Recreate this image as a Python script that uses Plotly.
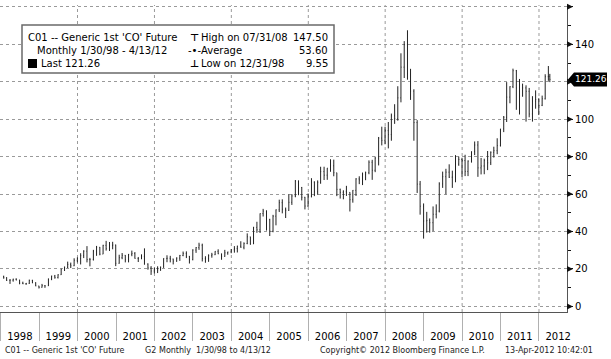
import plotly.graph_objects as go
import pandas as pd

# ---------------- data (monthly OHLC, Generic 1st 'CO' Future) ----------------
OPEN = [
    16.0, 15.3, 13.9, 14.0, 14.5, 14.1, 12.4, 12.1, 12.3, 13.9, 12.6, 10.9,   # 1998
    10.2, 11.1, 11.0, 14.6, 16.2, 15.4, 16.9, 19.9, 20.9, 22.4, 21.7, 24.6,   # 1999
    25.6, 27.1, 29.5, 25.0, 25.0, 29.5, 31.6, 27.9, 32.6, 30.8, 32.5, 32.8,   # 2000
    23.0, 26.0, 27.3, 24.9, 27.8, 28.3, 25.6, 25.5, 26.7, 22.6, 20.5, 18.9,   # 2001
    20.4, 19.5, 20.9, 25.6, 25.7, 25.3, 24.2, 25.8, 27.2, 28.3, 26.8, 25.0,   # 2002
    30.1, 31.4, 32.7, 25.5, 25.5, 27.1, 27.6, 29.4, 28.1, 26.7, 28.6, 29.1,   # 2003
    30.2, 30.9, 32.2, 31.6, 33.6, 37.2, 33.4, 42.2, 40.9, 49.6, 50.9, 46.3,   # 2004
    40.2, 48.2, 51.6, 55.4, 51.9, 51.3, 55.6, 59.0, 66.9, 63.5, 58.3, 53.6,   # 2005
    58.9, 66.4, 61.2, 66.3, 72.0, 70.1, 73.9, 75.1, 71.4, 62.5, 60.9, 61.5,   # 2006
    60.9, 57.0, 62.0, 68.1, 67.5, 70.6, 71.4, 77.0, 72.7, 79.2, 89.9, 88.7,   # 2007
    93.9, 91.8, 101.8, 100.3, 111.4, 127.8, 139.8, 124.1, 115.0, 98.2, 65.3, 53.5,  # 2008
    45.6, 45.9, 44.7, 49.2, 50.9, 65.4, 69.3, 71.7, 69.0, 69.1, 76.0, 78.5,   # 2009
    77.9, 72.1, 77.6, 82.7, 86.2, 74.0, 75.0, 77.9, 76.7, 82.3, 83.2, 85.9,   # 2010
    94.8, 101.0, 111.8, 117.4, 125.9, 116.7, 112.5, 116.7, 114.9, 102.8, 109.6, 110.5,  # 2011
    107.4, 110.9, 122.7, 122.9,                                               # 2012
]
HIGH = [
    16.4, 15.6, 14.6, 14.8, 15.0, 14.2, 13.2, 12.5, 14.3, 14.2, 12.9, 11.0,
    12.0, 11.3, 14.9, 16.4, 16.8, 17.2, 20.1, 21.3, 23.9, 23.4, 25.7, 26.2,
    28.4, 30.0, 32.2, 25.9, 30.2, 32.3, 31.7, 32.9, 35.0, 34.4, 34.5, 33.0,
    27.6, 28.5, 27.4, 28.0, 29.8, 29.0, 26.4, 27.8, 31.0, 23.0, 21.5, 20.6,
    21.4, 21.3, 25.7, 27.3, 27.0, 25.5, 26.2, 27.5, 29.3, 29.4, 26.9, 30.5,
    31.7, 34.0, 33.5, 26.8, 27.8, 28.6, 29.5, 30.5, 28.2, 30.2, 29.2, 30.6,
    32.2, 32.4, 34.8, 34.2, 39.0, 37.2, 42.5, 45.2, 49.7, 52.1, 51.3, 46.8,
    48.9, 51.8, 57.0, 57.2, 52.8, 59.8, 60.0, 67.5, 67.3, 63.8, 58.5, 60.3,
    68.5, 66.8, 67.3, 74.6, 74.6, 73.9, 78.6, 78.4, 71.4, 62.9, 62.0, 64.4,
    61.0, 62.1, 68.5, 69.5, 71.5, 72.0, 78.0, 78.3, 80.0, 90.5, 96.0, 96.0,
    98.5, 103.0, 108.0, 117.6, 135.2, 141.7, 147.5, 126.9, 116.0, 99.5, 67.0, 55.0,
    50.5, 47.0, 53.4, 54.5, 66.3, 72.0, 73.5, 75.9, 72.5, 80.8, 80.0, 79.4,
    81.0, 78.0, 82.8, 88.1, 88.3, 79.3, 78.9, 83.0, 82.8, 85.3, 89.8, 94.8,
    101.7, 119.8, 117.6, 127.0, 126.3, 121.5, 119.0, 118.1, 116.7, 112.3, 115.4, 111.2,
    112.6, 124.0, 128.4, 124.2,
]
LOW = [
    14.8, 13.6, 12.0, 13.2, 13.9, 11.8, 11.9, 11.5, 12.0, 12.4, 10.8, 9.55,
    10.0, 9.9, 10.9, 14.0, 14.8, 14.9, 16.8, 18.9, 20.5, 20.5, 21.5, 23.5,
    22.4, 25.8, 23.5, 21.4, 24.5, 27.0, 27.3, 27.9, 29.8, 29.6, 30.5, 21.5,
    22.8, 25.2, 23.5, 23.5, 26.8, 25.5, 23.7, 25.2, 22.3, 19.6, 16.8, 17.6,
    17.8, 19.0, 20.6, 23.6, 23.5, 22.4, 23.8, 24.3, 26.8, 25.8, 22.9, 24.6,
    28.6, 30.2, 24.0, 23.3, 23.8, 26.0, 27.4, 27.9, 24.9, 26.5, 27.6, 28.4,
    28.7, 28.8, 31.3, 30.5, 33.2, 32.9, 33.3, 39.3, 39.2, 48.0, 40.5, 37.6,
    39.6, 43.3, 50.4, 49.7, 47.2, 51.0, 54.2, 58.3, 59.4, 56.6, 51.8, 53.2,
    58.2, 58.9, 59.6, 65.5, 67.5, 67.6, 71.9, 69.5, 58.9, 57.6, 57.2, 59.0,
    50.7, 55.4, 59.0, 65.3, 64.8, 67.4, 70.6, 67.6, 71.7, 75.3, 86.0, 86.6,
    84.4, 88.5, 97.5, 99.2, 109.0, 122.0, 121.1, 110.3, 88.5, 60.6, 49.0, 36.2,
    39.4, 39.4, 40.2, 47.0, 50.2, 63.3, 59.9, 68.6, 63.3, 66.3, 75.1, 69.1,
    69.6, 69.6, 76.8, 80.8, 69.2, 70.5, 70.6, 72.8, 75.5, 79.5, 81.3, 85.4,
    93.1, 98.5, 108.5, 116.6, 105.0, 102.5, 112.0, 98.7, 101.0, 98.7, 105.6, 102.2,
    107.0, 110.5, 120.5, 119.8,
]
CLOSE = [
    15.3, 13.9, 14.0, 14.5, 14.1, 12.4, 12.1, 12.3, 13.9, 12.6, 10.9, 10.2,
    11.1, 11.0, 14.6, 16.2, 15.4, 16.9, 19.9, 20.9, 22.4, 21.7, 24.6, 25.6,
    27.1, 29.5, 25.0, 25.0, 29.5, 31.6, 27.9, 32.6, 30.8, 32.5, 32.8, 23.0,
    26.0, 27.3, 24.9, 27.8, 28.3, 25.6, 25.5, 26.7, 22.6, 20.5, 18.9, 20.4,
    19.5, 20.9, 25.6, 25.7, 25.3, 24.2, 25.8, 27.2, 28.3, 26.8, 25.0, 30.1,
    31.4, 32.7, 25.5, 25.5, 27.1, 27.6, 29.4, 28.1, 26.7, 28.6, 29.1, 30.2,
    30.9, 32.2, 31.6, 33.6, 37.2, 33.4, 42.2, 40.9, 49.6, 50.9, 46.3, 40.2,
    48.2, 51.6, 55.4, 51.9, 51.3, 55.6, 59.0, 66.9, 63.5, 58.3, 53.6, 58.9,
    66.4, 61.2, 66.3, 72.0, 70.1, 73.9, 75.1, 71.4, 62.5, 60.9, 61.5, 60.9,
    57.0, 62.0, 68.1, 67.5, 70.6, 71.4, 77.0, 72.7, 79.2, 89.9, 88.7, 93.9,
    91.8, 101.8, 100.3, 111.4, 127.8, 139.8, 124.1, 115.0, 98.2, 65.3, 53.5, 45.6,
    45.9, 44.7, 49.2, 50.9, 65.4, 69.3, 71.7, 69.0, 69.1, 76.0, 78.5, 77.9,
    72.1, 77.6, 82.7, 86.2, 74.0, 75.0, 77.9, 76.7, 82.3, 83.2, 85.9, 94.8,
    101.0, 111.8, 117.4, 125.9, 116.7, 112.5, 116.7, 114.9, 102.8, 109.6, 110.5, 107.4,
    110.9, 122.7, 122.9, 121.26,
]

try:
    _d = pd.date_range("1998-01-01", periods=len(CLOSE), freq="BME")
except ValueError:
    _d = pd.date_range("1998-01-01", periods=len(CLOSE), freq="BM")
DATES = list(_d.strftime("%Y-%m-%d"))
DATES[-1] = "2012-04-13"

Y_TICKS = [0, 20, 40, 60, 80, 100, 120, 140, 160]
Y_LABELS = ["0", "20", "40", "60", "80", "100", "", "140", ""]
Y_MINOR = [10, 30, 50, 70, 90, 110, 130, 150]
GRID_YEARS = ["2000-01-01", "2002-01-01", "2004-01-01", "2006-01-01",
              "2008-01-01", "2010-01-01", "2012-01-01"]
LAST_VALUE = 121.26

LEGEND_LEFT = ["C01 -- Generic 1st 'CO' Future", "Monthly 1/30/98 - 4/13/12", "Last 121.26"]
LEGEND_RIGHT = ["High on 07/31/08", "Average", "Low on 12/31/98"]
LEGEND_VALUES = ["147.50", "53.60", "9.55"]
FOOTER = ["C01 -- Generic 1st 'CO' Future", "G2", "Monthly  1/30/98 to 4/13/12",
          "Copyright\u00a9 2012 Bloomberg Finance L.P.", "13-Apr-2012 10:42:01"]

# ---------------- geometry ----------------
W, H = 611, 359
ML, MR, MT, MB = 0, 44, 5, 47
PW = W - ML - MR          # 567
PH = H - MT - MB          # 307
YMIN, YMAX = -3, 161
FONT = "DejaVu Sans"


def px(x):
    return (x - ML) / PW


def py(y):
    return (MT + PH - y) / PH


def vy(v):
    return (v - YMIN) / (YMAX - YMIN)


fig = go.Figure()
fig.add_trace(go.Ohlc(
    x=DATES, open=OPEN, high=HIGH, low=LOW, close=CLOSE,
    increasing=dict(line=dict(color="#222222", width=1)),
    decreasing=dict(line=dict(color="#222222", width=1)),
    tickwidth=0.35, showlegend=False, hoverinfo="skip",
))

shapes = []
for d in GRID_YEARS:
    shapes.append(dict(type="line", xref="x", yref="paper", x0=d, x1=d, y0=0, y1=1,
                       line=dict(color="#9a9a9a", width=1, dash="dot"), layer="below"))

# arrow flags on the right axis
for v in Y_TICKS:
    shapes.append(dict(type="path", xref="paper", yref="paper",
                       xsizemode="pixel", ysizemode="pixel", xanchor=1, yanchor=vy(v),
                       path="M0,3 L6,0 L0,-3 Z", fillcolor="#111", line=dict(width=0)))

# last value tag
shapes.append(dict(type="path", xref="paper", yref="paper",
                   xsizemode="pixel", ysizemode="pixel", xanchor=1, yanchor=vy(LAST_VALUE),
                   path="M1,0 L7,7 L40,7 L40,-7 L7,-7 Z", fillcolor="#000", line=dict(width=0)))

# legend box
shapes.append(dict(type="rect", xref="paper", yref="paper",
                   x0=px(22), x1=px(334), y0=py(73), y1=py(25),
                   fillcolor="white", line=dict(color="#6a6a6a", width=1.5)))
shapes.append(dict(type="rect", xref="paper", yref="paper",
                   x0=px(28), x1=px(37), y0=py(68), y1=py(59),
                   fillcolor="black", line=dict(width=0)))

ann = []
ann.append(dict(xref="paper", yref="paper", x=1, y=vy(LAST_VALUE), xshift=23.5,
                text="121.26", showarrow=False, xanchor="center", yanchor="middle",
                font=dict(family=FONT, size=9, color="white")))

rows_y = [37.5, 50.5, 63.5]
left_x = [26, 35, 39]
for t, xx, yy in zip(LEGEND_LEFT, left_x, rows_y):
    ann.append(dict(xref="paper", yref="paper", x=px(xx), y=py(yy), text=t, showarrow=False,
                    xanchor="left", yanchor="middle", font=dict(family=FONT, size=10, color="#000")))
syms = ["<b>\u22a4</b>", "-\u2022-", "<b>\u22a5</b>"]
sym_x = [188, 186, 188]
for s, sx, t, v, yy in zip(syms, sym_x, LEGEND_RIGHT, LEGEND_VALUES, rows_y):
    ann.append(dict(xref="paper", yref="paper", x=px(sx), y=py(yy), text=s, showarrow=False,
                    xanchor="left", yanchor="middle", font=dict(family=FONT, size=10, color="#000")))
    ann.append(dict(xref="paper", yref="paper", x=px(199), y=py(yy), text=t, showarrow=False,
                    xanchor="left", yanchor="middle", font=dict(family=FONT, size=10, color="#000")))
    ann.append(dict(xref="paper", yref="paper", x=px(330), y=py(yy), text=v, showarrow=False,
                    xanchor="right", yanchor="middle", font=dict(family=FONT, size=10, color="#000")))

foot_x = [3, 143, 157, 318, 503]
for t, fx in zip(FOOTER, foot_x):
    ann.append(dict(xref="paper", yref="paper", x=px(fx), y=py(350), text=t, showarrow=False,
                    xanchor="left", yanchor="middle", font=dict(family=FONT, size=8, color="#222")))

fig.update_layout(
    width=W, height=H,
    margin=dict(l=ML, r=MR, t=MT, b=MB, pad=0),
    paper_bgcolor="white", plot_bgcolor="white",
    showlegend=False,
    shapes=shapes, annotations=ann,
    xaxis=dict(
        type="date", range=["1997-12-26", "2012-09-23"],
        rangeslider=dict(visible=False),
        showgrid=False, zeroline=False,
        showline=True, linecolor="#555", linewidth=1,
        ticks="outside", ticklen=28, tickcolor="#b0b0b0", tickwidth=1,
        dtick="M12", tick0="1998-01-01", ticklabelmode="period", tickformat="%Y",
        ticklabelstandoff=-13,
        tickfont=dict(family=FONT, size=10, color="#000"),
    ),
    yaxis=dict(
        side="right", range=[YMIN, YMAX],
        tickmode="array", tickvals=Y_TICKS, ticktext=Y_LABELS,
        showgrid=True, gridcolor="#9a9a9a", griddash="dot", gridwidth=1,
        zeroline=False, showline=True, linecolor="#555", linewidth=1,
        ticks="outside", ticklen=5, tickcolor="#111",
        minor=dict(tickmode="array", tickvals=Y_MINOR, ticks="outside", ticklen=3,
                   tickcolor="#111", showgrid=False),
        tickfont=dict(family=FONT, size=10, color="#000"),
    ),
)

fig.write_html("out.html", config={"displayModeBar": False},
               post_script="document.body.style.margin='0';")
